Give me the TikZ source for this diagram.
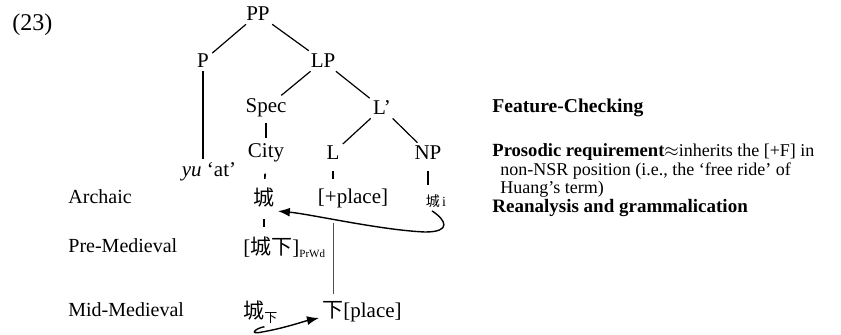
\documentclass[tikz,border=0pt]{standalone}
\usepackage{fontspec}
\setmainfont{Liberation Serif}
\newfontfamily\cjk{Noto Sans CJK SC}
\usetikzlibrary{arrows.meta, positioning}
\tikzstyle{cat} = [inner sep=1.5pt, font=\fontsize{10.5}{12}\selectfont]
\tikzstyle{era} = [anchor=west, inner sep=0pt, font=\fontsize{10}{12}\selectfont]
\tikzstyle{branch} = [line width=0.6pt]
\tikzstyle{tick} = [line width=0.8pt, shorten <=4pt, shorten >=3pt]
\tikzstyle{arrow} = [line width=0.7pt, -{Latex[length=6pt,width=4.5pt]}]

\begin{document}
\begin{tikzpicture}[x=0.5pt,y=-0.5pt]
  \useasboundingbox (0,0) rectangle (841,334);

  % Example number
  \node (num) [era, font=\fontsize{12}{14}\selectfont] at (12,25) {(23)};

  % Tree nodes
  \node (pp) [cat] at (258,14) {PP};
  \node (p) [cat] at (203,61) {P};
  \node (lp) [cat] at (323,61) {LP};
  \node (spec) [cat] at (266,108) {Spec};
  \node (lbar) [cat] at (382,108) {L’};
  \node (city) [cat] at (266,153) {City};
  \node (l) [cat] at (333,153) {L};
  \node (np) [cat] at (428,153) {NP};
  \node (yu) [cat] at (209,172) {\textit{yu} ‘at’};

  % Archaic row
  \node (archaic) [era] at (68,197) {Archaic};
  \node (cheng) [cat] at (264,198) {\cjk 城};
  \node (plus) [cat] at (353,198) {[+place]};
  \node (chengi) [cat, font=\fontsize{7}{8}\selectfont] at (436,201) {{\cjk 城}\,i};

  % Pre-Medieval row
  \node (pre) [era] at (68,246) {Pre-Medieval};
  \node (prwd) [cat, anchor=west] at (240,247) {[{\cjk 城下}]\textsubscript{\fontsize{5.5}{6}\selectfont PrWd}};

  % Mid-Medieval row
  \node (mid) [era] at (68,310) {Mid-Medieval};
  \node (chengxia) [cat, anchor=west] at (240,312) {{\cjk 城}\raisebox{-2pt}{\cjk\fontsize{6.5}{7}\selectfont 下}};
  \node (xia) [cat, anchor=west] at (319,312) {{\cjk 下}[place]};

  % Branches
  \draw[branch] (pp) -- (p);
  \draw[branch] (pp) -- (lp);
  \draw[branch] (lp) -- (spec);
  \draw[branch] (lp) -- (lbar);
  \draw[branch] (lbar) -- (l);
  \draw[branch] (lbar) -- (np);
  \draw[branch] (p.south) -- (p.south |- yu.north);

  % Short ticks between rows
  \draw[tick, shorten <=1pt, shorten >=1pt] (spec) -- (city);
  \draw[tick] (city) -- (cheng);
  \draw[tick] (l) -- (l |- plus.north);
  \draw[tick] (np.south) -- (np.south |- chengi.north);
  \draw[tick] (cheng) -- (cheng |- prwd.north);
  \draw[thin, black!70, shorten <=6pt, shorten >=2pt] (plus.south -| l) -- (l |- xia.north);

  % Movement arrows
  \draw[arrow] ([xshift=-2pt]chengi.south) .. controls (446,220) and (452,232) .. (425,232)
    .. controls (380,230) and (310,214) .. (cheng.south east);
  \draw[arrow] ([xshift=2pt]chengxia.south) .. controls (256,328) and (248,335) .. (262,332)
    .. controls (285,328) and (305,321) .. ([yshift=-3pt]xia.west);

  % Annotations
  \node (fc) [anchor=west, inner sep=0pt, font=\bfseries\fontsize{9.8}{10}\selectfont] at (492,108) {Feature-Checking};
  \node (pros) [anchor=north west, inner sep=0pt, align=left, font=\fontsize{9}{9.4}\selectfont] at (492,143)
    {{\fontsize{9.3}{9.4}\selectfont\bfseries Prosodic requirement}$\approx$inherits the [+F] in\\
     \hspace*{4pt}non-NSR position (i.e., the ‘free ride’ of\\
     \hspace*{4pt}Huang’s term)\\
     {\fontsize{9.5}{9.4}\selectfont\bfseries Reanalysis and grammalication}};
\end{tikzpicture}
\end{document}
